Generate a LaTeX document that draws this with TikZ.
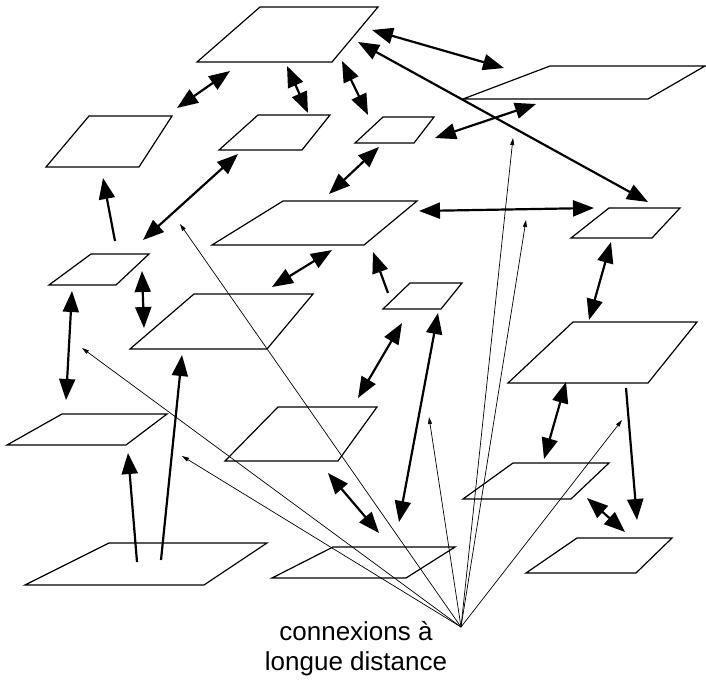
\documentclass[tikz,border=0pt]{standalone}
\usepackage{fontspec}
\setmainfont{Liberation Sans}
\usetikzlibrary{arrows.meta}

\begin{document}
\begin{tikzpicture}[x=1pt,y=-1pt,
  plane/.style={line width=1.2pt,line join=miter},
  link/.style={line width=2.2pt,-{Triangle[length=21pt,width=16pt]}},
  link2/.style={line width=2.2pt,{Triangle[length=21pt,width=16pt]}-{Triangle[length=21pt,width=16pt]}},
  far/.style={line width=0.7pt,-{Triangle[length=7pt,width=4pt]}}]
\useasboundingbox (0,0) rectangle (706,681);

%planes: top y / bottom y / top-left x / top-right x / bottom-right x / bottom-left x
\foreach \ty/\by/\tl/\tr/\br/\bl in {
  7/62/260/378/332/197,
  66/99/550/705/648/463,
  116/167/89/172/139/46,
  115/150/258/330/302/219,
  117/143/383/434/414/355,
  201/245/283/417/364/212,
  208/238/609/680/652/571,
  254/285/91/149/116/49,
  294/349/194/313/267/130,
  283/309/410/462/441/383,
  322/383/573/697/648/508,
  414/445/62/167/126/7,
  407/461/278/377/338/225,
  463/499/513/609/571/463,
  543/585/109/267/204/25,
  547/578/333/455/406/272,
  538/573/577/672/636/526}{
  \draw[plane] (\tl,\ty) -- (\tr,\ty) -- (\br,\by) -- (\bl,\by) -- cycle;
}

%two-way links
\foreach \xa/\ya/\xb/\yb in {
  177/108/230/71, 287/66/308/113, 342/61/368/115, 372/30/504/68,
  358/42/648/202, 435/138/536/104, 379/147/329/194, 143/240/238/154,
  272/287/332/250, 142/271/144/328, 419/211/594/208, 611/242/589/320,
  72/291/66/400, 402/323/358/398, 438/313/399/522, 328/473/379/533,
  566/382/544/459, 587/498/625/532}{
  \draw[link2] (\xa,\ya) -- (\xb,\yb);
}

%one-way links
\foreach \xa/\ya/\xb/\yb in {
  115/241/103/178, 388/293/373/252, 137/562/128/453,
  161/560/182/355, 626/388/637/520}{
  \draw[link] (\xa,\ya) -- (\xb,\yb);
}

%long distance connections
\coordinate (hub) at (461,627);
\foreach \xb/\yb in {180/224, 82/348, 182/456, 513/138, 526/220, 429/417, 622/420}{
  \draw[far] (hub) -- (\xb,\yb);
}

\node[align=center,font=\fontsize{26}{30}\selectfont,inner sep=0pt] (lbl) at (356,648.5)
  {connexions à\\longue distance};

\end{tikzpicture}
\end{document}
